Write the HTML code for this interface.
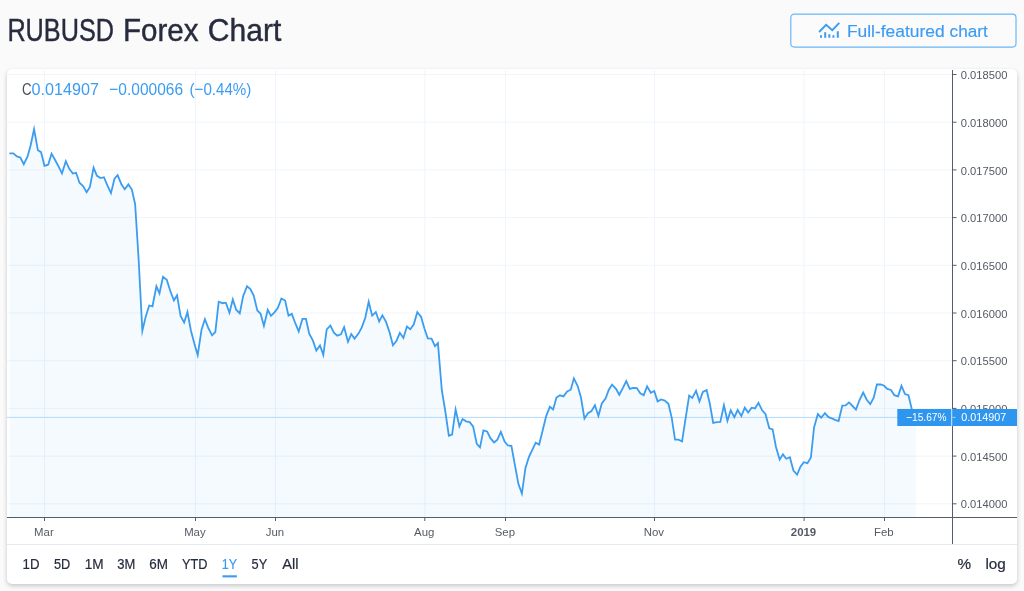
<!DOCTYPE html>
<html lang="en"><head><meta charset="utf-8"><title>RUBUSD Forex Chart</title>
<style>
html,body{margin:0;padding:0}
body{width:1024px;height:591px;background:#fafafa;position:relative;overflow:hidden;font-family:"Liberation Sans",sans-serif;color:#262b3e}
.hdr{position:absolute;left:0;top:0;display:block}
.card{position:absolute;left:7px;top:69px;width:1010px;height:515px;background:#fff;border-radius:5px;box-shadow:0 2px 4px rgba(20,30,45,.23)}
.chart{position:absolute;left:0;top:0;display:block;border-radius:5px;overflow:hidden}
</style></head><body>
<svg class="hdr" width="1024" height="69" viewBox="0 0 1024 69" font-family="Liberation Sans, sans-serif">
<rect x="790.8" y="14.2" width="225.2" height="32.9" rx="3.5" fill="#fbfbfc" stroke="#6bb7f6" stroke-width="1.2"/>
<text><tspan x="7.38" y="40.5" font-size="31.2" fill="#262b3e" stroke="#262b3e" stroke-width="0.4" textLength="106.66" lengthAdjust="spacingAndGlyphs">RUBUSD</tspan> <tspan x="122.9" y="40.5" font-size="31.2" fill="#262b3e" stroke="#262b3e" stroke-width="0.4" textLength="75.6" lengthAdjust="spacingAndGlyphs">Forex</tspan> <tspan x="207.81" y="40.5" font-size="31.2" fill="#262b3e" stroke="#262b3e" stroke-width="0.4" textLength="73.52" lengthAdjust="spacingAndGlyphs">Chart</tspan></text>
<text><tspan x="846.93" y="36.7" font-size="16.6" fill="#3a9cf2" stroke="#3a9cf2" stroke-width="0.15" textLength="97.68" lengthAdjust="spacingAndGlyphs">Full-featured</tspan> <tspan x="949.63" y="36.7" font-size="16.6" fill="#3a9cf2" stroke="#3a9cf2" stroke-width="0.15" textLength="38.18" lengthAdjust="spacingAndGlyphs">chart</tspan></text>
<polyline points="819.1,32 826.1,24.8 832.3,30.1 839.3,22.9" fill="none" stroke="#3a9cf2" stroke-width="1.9"/>
<path d="M820 35.2h2v2.5h-2zM824.2 32.2h2v5.5h-2zM828.3 34.2h2v3.5h-2zM832.4 35.2h2v2.5h-2zM836.8 31.3h2v6.4h-2z" fill="#3a9cf2"/>
</svg>
<div class="card">
<svg class="chart" width="1010" height="515" viewBox="0 0 1010 515" font-family="Liberation Sans, sans-serif">
<line x1="0" x2="945" y1="5.5" y2="5.5" stroke="#f1f5f9"/>
<line x1="0" x2="945" y1="53.2" y2="53.2" stroke="#f1f5f9"/>
<line x1="0" x2="945" y1="100.9" y2="100.9" stroke="#f1f5f9"/>
<line x1="0" x2="945" y1="148.6" y2="148.6" stroke="#f1f5f9"/>
<line x1="0" x2="945" y1="196.3" y2="196.3" stroke="#f1f5f9"/>
<line x1="0" x2="945" y1="244" y2="244" stroke="#f1f5f9"/>
<line x1="0" x2="945" y1="291.7" y2="291.7" stroke="#f1f5f9"/>
<line x1="0" x2="945" y1="339.4" y2="339.4" stroke="#f1f5f9"/>
<line x1="0" x2="945" y1="387.1" y2="387.1" stroke="#f1f5f9"/>
<line x1="0" x2="945" y1="434.8" y2="434.8" stroke="#f1f5f9"/>
<line x1="37.5" x2="37.5" y1="1" y2="448" stroke="#eef5fc"/>
<line x1="188.5" x2="188.5" y1="1" y2="448" stroke="#eef5fc"/>
<line x1="268.5" x2="268.5" y1="1" y2="448" stroke="#eef5fc"/>
<line x1="417.8" x2="417.8" y1="1" y2="448" stroke="#eef5fc"/>
<line x1="498.5" x2="498.5" y1="1" y2="448" stroke="#eef5fc"/>
<line x1="647.5" x2="647.5" y1="1" y2="448" stroke="#eef5fc"/>
<line x1="797.1" x2="797.1" y1="1" y2="448" stroke="#eef5fc"/>
<line x1="877.5" x2="877.5" y1="1" y2="448" stroke="#eef5fc"/>
<polygon points="3.06,84.3 6.35,84.3 9.89,87.4 13.33,88.5 16.79,95.21 20.57,87.4 23.66,76.2 27.07,60.24 30.89,81.3 34.08,83.2 37.47,96.8 41.16,95.7 44.55,84.68 48.1,91 51.64,97.6 54.96,104.29 58.83,92.19 62.31,99.9 65.85,104.6 69.09,103.8 72.48,113.7 76.08,117.1 79.62,123.19 82.91,117.9 86.57,98.57 89.94,106.9 93.63,109 96.92,108.2 100.61,116.8 103.99,124.09 107.45,109.75 110.64,106.08 114.38,115.2 117.77,120.21 121.36,115.39 124.85,120.5 128.14,135.2 131.61,190 135.35,261.91 138.77,247.4 142.21,236.5 145.49,237.29 149.4,217.28 152.48,224.25 156.02,207.86 159.76,210.7 163.21,221.7 166.93,231.48 170.04,226.27 173.58,247 177.14,253.45 180.44,243.04 183.9,261.5 187.39,274.8 190.71,286.01 194.53,260.7 197.89,250.27 201.36,259.2 205.07,266.34 208.34,263 211.69,232.7 215.52,234.2 218.86,233.7 222.43,243.74 225.81,230.46 229.19,240.7 232.76,244.38 236.17,227.1 240.05,217.18 243.35,220.1 246.64,226.3 250.34,241.5 253.63,244.8 256.91,256.96 260.77,240.85 263.98,246.83 267.44,243.4 270.78,239 274.41,229.54 278.11,231.5 281.51,246.58 284.78,244.85 288.29,254.2 291.73,262.52 295.47,249.8 298.91,249.8 302.25,264.6 305.94,271.7 309.3,281.59 313,276.45 316.31,285.81 319.71,260.4 323.42,256.49 326.94,263.8 330.23,266.7 333.92,265.4 337.13,258.16 340.98,272.81 344.27,265.05 347.55,269.63 351.46,264.6 354.77,258.4 358.21,249 361.69,232.69 365.15,246.6 368.84,243.06 372.13,252.45 375.38,246.35 379.06,252.9 382.5,263.1 385.94,276.3 389.53,271.7 392.86,263.84 396.43,269 399.88,257.52 403.3,260.23 406.81,255.25 410.27,243.18 414.05,247.75 417.41,259.5 420.75,269.3 424.5,269.6 428.02,277.15 430.93,274.15 434.82,321.2 438.26,342 441.84,366.73 445.09,365.6 448.61,340.42 452.39,357.28 455.59,349.99 459.11,352.3 462.65,353.1 466.09,357.4 469.78,374.9 473,378.35 476.43,361.33 480.1,362.4 483.4,369.2 487.09,373.4 490.38,370.7 493.85,362.83 497.61,372.6 500.85,376.5 504.39,376.8 507.88,395.8 511.38,414.8 514.9,424.5 518.41,399.2 521.85,388.2 525.29,380.9 528.69,373.72 532.12,375.59 535.71,361.2 539.23,346.8 542.89,337.77 546.16,340.45 549.45,328.5 552.97,326.3 556.51,327.4 560.15,322.4 563.69,320.7 566.91,309.43 570.68,317 573.97,328.5 577.46,349.58 581,344.1 584.44,342.1 587.9,336.18 591.41,346.91 594.81,334.4 598.66,329.3 601.82,320.7 605.05,315.62 608.98,319.9 612.27,325.79 615.81,319.1 619.27,312.16 622.74,319.9 626.28,318.8 629.83,319.1 633.27,324.3 636.71,326.15 640.09,317.36 643.79,323.8 647.25,321.97 650.6,332.33 654.26,330.4 657.71,331.6 661.42,334.75 664.74,348.8 668.03,370.7 671.57,370.7 675.04,372.46 678.55,349.6 682.16,326.51 685.31,328.89 689.03,321.79 692.45,332.39 695.86,323 699.66,321.1 702.84,334.75 706.18,354 709.87,353.2 713.31,353 716.94,336.3 720.41,351.79 723.71,341.36 727.36,348.19 730.65,341.01 734.37,347.04 737.75,338.66 741.15,343.5 744.69,338.7 747.98,339.4 751.45,333.87 755.16,341.3 758.45,344.9 762.29,359.3 765.63,360.4 768.97,378 772.69,390.62 775.92,385.34 779.3,389.75 782.87,388.24 786.43,401.5 790.08,405.55 793.46,397.6 796.75,393.2 800.44,394.1 803.89,388.5 807.05,358.5 810.85,345.12 814.21,348.72 817.9,344.08 821.19,347.9 824.63,349.3 828.07,350.8 831.6,352.07 835.31,336.6 838.6,336.4 842.04,333.4 845.53,337 848.97,340.54 852.51,331 856.2,323.51 859.75,330.7 863.27,335.16 866.73,328.7 869.87,315.5 873.56,315.5 876.85,316.5 880.29,319.9 883.98,321 887.32,326.2 891.02,327.4 894.49,316.87 898,325.1 901.44,326.2 904.98,341 908.9,348.4 908.9,448.2 3.06,448.2" fill="#2196f3" fill-opacity="0.05"/>
<line x1="0" x2="945" y1="348.4" y2="348.4" stroke="#b5dbfb"/>
<polyline points="3.06,84.3 6.35,84.3 9.89,87.4 13.33,88.5 16.79,95.21 20.57,87.4 23.66,76.2 27.07,60.24 30.89,81.3 34.08,83.2 37.47,96.8 41.16,95.7 44.55,84.68 48.1,91 51.64,97.6 54.96,104.29 58.83,92.19 62.31,99.9 65.85,104.6 69.09,103.8 72.48,113.7 76.08,117.1 79.62,123.19 82.91,117.9 86.57,98.57 89.94,106.9 93.63,109 96.92,108.2 100.61,116.8 103.99,124.09 107.45,109.75 110.64,106.08 114.38,115.2 117.77,120.21 121.36,115.39 124.85,120.5 128.14,135.2 131.61,190 135.35,261.91 138.77,247.4 142.21,236.5 145.49,237.29 149.4,217.28 152.48,224.25 156.02,207.86 159.76,210.7 163.21,221.7 166.93,231.48 170.04,226.27 173.58,247 177.14,253.45 180.44,243.04 183.9,261.5 187.39,274.8 190.71,286.01 194.53,260.7 197.89,250.27 201.36,259.2 205.07,266.34 208.34,263 211.69,232.7 215.52,234.2 218.86,233.7 222.43,243.74 225.81,230.46 229.19,240.7 232.76,244.38 236.17,227.1 240.05,217.18 243.35,220.1 246.64,226.3 250.34,241.5 253.63,244.8 256.91,256.96 260.77,240.85 263.98,246.83 267.44,243.4 270.78,239 274.41,229.54 278.11,231.5 281.51,246.58 284.78,244.85 288.29,254.2 291.73,262.52 295.47,249.8 298.91,249.8 302.25,264.6 305.94,271.7 309.3,281.59 313,276.45 316.31,285.81 319.71,260.4 323.42,256.49 326.94,263.8 330.23,266.7 333.92,265.4 337.13,258.16 340.98,272.81 344.27,265.05 347.55,269.63 351.46,264.6 354.77,258.4 358.21,249 361.69,232.69 365.15,246.6 368.84,243.06 372.13,252.45 375.38,246.35 379.06,252.9 382.5,263.1 385.94,276.3 389.53,271.7 392.86,263.84 396.43,269 399.88,257.52 403.3,260.23 406.81,255.25 410.27,243.18 414.05,247.75 417.41,259.5 420.75,269.3 424.5,269.6 428.02,277.15 430.93,274.15 434.82,321.2 438.26,342 441.84,366.73 445.09,365.6 448.61,340.42 452.39,357.28 455.59,349.99 459.11,352.3 462.65,353.1 466.09,357.4 469.78,374.9 473,378.35 476.43,361.33 480.1,362.4 483.4,369.2 487.09,373.4 490.38,370.7 493.85,362.83 497.61,372.6 500.85,376.5 504.39,376.8 507.88,395.8 511.38,414.8 514.9,424.5 518.41,399.2 521.85,388.2 525.29,380.9 528.69,373.72 532.12,375.59 535.71,361.2 539.23,346.8 542.89,337.77 546.16,340.45 549.45,328.5 552.97,326.3 556.51,327.4 560.15,322.4 563.69,320.7 566.91,309.43 570.68,317 573.97,328.5 577.46,349.58 581,344.1 584.44,342.1 587.9,336.18 591.41,346.91 594.81,334.4 598.66,329.3 601.82,320.7 605.05,315.62 608.98,319.9 612.27,325.79 615.81,319.1 619.27,312.16 622.74,319.9 626.28,318.8 629.83,319.1 633.27,324.3 636.71,326.15 640.09,317.36 643.79,323.8 647.25,321.97 650.6,332.33 654.26,330.4 657.71,331.6 661.42,334.75 664.74,348.8 668.03,370.7 671.57,370.7 675.04,372.46 678.55,349.6 682.16,326.51 685.31,328.89 689.03,321.79 692.45,332.39 695.86,323 699.66,321.1 702.84,334.75 706.18,354 709.87,353.2 713.31,353 716.94,336.3 720.41,351.79 723.71,341.36 727.36,348.19 730.65,341.01 734.37,347.04 737.75,338.66 741.15,343.5 744.69,338.7 747.98,339.4 751.45,333.87 755.16,341.3 758.45,344.9 762.29,359.3 765.63,360.4 768.97,378 772.69,390.62 775.92,385.34 779.3,389.75 782.87,388.24 786.43,401.5 790.08,405.55 793.46,397.6 796.75,393.2 800.44,394.1 803.89,388.5 807.05,358.5 810.85,345.12 814.21,348.72 817.9,344.08 821.19,347.9 824.63,349.3 828.07,350.8 831.6,352.07 835.31,336.6 838.6,336.4 842.04,333.4 845.53,337 848.97,340.54 852.51,331 856.2,323.51 859.75,330.7 863.27,335.16 866.73,328.7 869.87,315.5 873.56,315.5 876.85,316.5 880.29,319.9 883.98,321 887.32,326.2 891.02,327.4 894.49,316.87 898,325.1 901.44,326.2 904.98,341 908.9,348.4" fill="none" stroke="#3a9df1" stroke-width="1.8" stroke-linejoin="miter" stroke-miterlimit="10" stroke-linecap="round"/>
<line x1="0" x2="1010" y1="448.5" y2="448.5" stroke="#555d6b"/>
<line x1="945.5" x2="945.5" y1="1" y2="475" stroke="#555d6b"/>
<line x1="37.5" x2="37.5" y1="448.5" y2="452" stroke="#555d6b"/>
<text x="36.9" y="467.3" text-anchor="middle" font-size="11.4" fill="#555a64">Mar</text>
<line x1="188.5" x2="188.5" y1="448.5" y2="452" stroke="#555d6b"/>
<text x="187.9" y="467.3" text-anchor="middle" font-size="11.4" fill="#555a64">May</text>
<line x1="268.5" x2="268.5" y1="448.5" y2="452" stroke="#555d6b"/>
<text x="267.9" y="467.3" text-anchor="middle" font-size="11.4" fill="#555a64">Jun</text>
<line x1="417.8" x2="417.8" y1="448.5" y2="452" stroke="#555d6b"/>
<text x="417.2" y="467.3" text-anchor="middle" font-size="11.4" fill="#555a64">Aug</text>
<line x1="498.5" x2="498.5" y1="448.5" y2="452" stroke="#555d6b"/>
<text x="497.9" y="467.3" text-anchor="middle" font-size="11.4" fill="#555a64">Sep</text>
<line x1="647.5" x2="647.5" y1="448.5" y2="452" stroke="#555d6b"/>
<text x="646.9" y="467.3" text-anchor="middle" font-size="11.4" fill="#555a64">Nov</text>
<line x1="797.1" x2="797.1" y1="448.5" y2="452" stroke="#555d6b"/>
<text x="796.5" y="467.3" text-anchor="middle" font-size="11.4" fill="#555a64" font-weight="bold">2019</text>
<line x1="877.5" x2="877.5" y1="448.5" y2="452" stroke="#555d6b"/>
<text x="876.9" y="467.3" text-anchor="middle" font-size="11.4" fill="#555a64">Feb</text>
<line x1="945.5" x2="949.5" y1="5.5" y2="5.5" stroke="#555d6b"/>
<text x="953.8" y="10.1" font-size="11.4" fill="#555a64" textLength="46.6" lengthAdjust="spacingAndGlyphs">0.018500</text>
<line x1="945.5" x2="949.5" y1="53.2" y2="53.2" stroke="#555d6b"/>
<text x="953.8" y="57.8" font-size="11.4" fill="#555a64" textLength="46.6" lengthAdjust="spacingAndGlyphs">0.018000</text>
<line x1="945.5" x2="949.5" y1="100.9" y2="100.9" stroke="#555d6b"/>
<text x="953.8" y="105.5" font-size="11.4" fill="#555a64" textLength="46.6" lengthAdjust="spacingAndGlyphs">0.017500</text>
<line x1="945.5" x2="949.5" y1="148.6" y2="148.6" stroke="#555d6b"/>
<text x="953.8" y="153.2" font-size="11.4" fill="#555a64" textLength="46.6" lengthAdjust="spacingAndGlyphs">0.017000</text>
<line x1="945.5" x2="949.5" y1="196.3" y2="196.3" stroke="#555d6b"/>
<text x="953.8" y="200.9" font-size="11.4" fill="#555a64" textLength="46.6" lengthAdjust="spacingAndGlyphs">0.016500</text>
<line x1="945.5" x2="949.5" y1="244" y2="244" stroke="#555d6b"/>
<text x="953.8" y="248.6" font-size="11.4" fill="#555a64" textLength="46.6" lengthAdjust="spacingAndGlyphs">0.016000</text>
<line x1="945.5" x2="949.5" y1="291.7" y2="291.7" stroke="#555d6b"/>
<text x="953.8" y="296.3" font-size="11.4" fill="#555a64" textLength="46.6" lengthAdjust="spacingAndGlyphs">0.015500</text>
<line x1="945.5" x2="949.5" y1="339.4" y2="339.4" stroke="#555d6b"/>
<text x="953.8" y="344" font-size="11.4" fill="#555a64" textLength="46.6" lengthAdjust="spacingAndGlyphs">0.015000</text>
<line x1="945.5" x2="949.5" y1="387.1" y2="387.1" stroke="#555d6b"/>
<text x="953.8" y="391.7" font-size="11.4" fill="#555a64" textLength="46.6" lengthAdjust="spacingAndGlyphs">0.014500</text>
<line x1="945.5" x2="949.5" y1="434.8" y2="434.8" stroke="#555d6b"/>
<text x="953.8" y="439.4" font-size="11.4" fill="#555a64" textLength="46.6" lengthAdjust="spacingAndGlyphs">0.014000</text>
<rect x="890.3" y="340" width="119.7" height="17" fill="#2f96f0"/>
<line x1="944.7" x2="944.7" y1="340" y2="357" stroke="#d4e9fc"/>
<line x1="945.5" x2="948.5" y1="348.4" y2="348.4" stroke="#a8d2f8"/>
<text x="899.16" y="351.9" font-size="11.4" fill="#fff" textLength="40.34" lengthAdjust="spacingAndGlyphs">−15.67%</text>
<text x="954.25" y="351.9" font-size="11.4" fill="#fff" textLength="44.91" lengthAdjust="spacingAndGlyphs">0.014907</text>
<text><tspan x="14.9" y="25.8" font-size="17.2" fill="#4a4f5c" textLength="9.6" lengthAdjust="spacingAndGlyphs">C</tspan> <tspan x="24.4" y="25.8" font-size="17.2" fill="#3a9cf2" textLength="67.5" lengthAdjust="spacingAndGlyphs">0.014907</tspan> <tspan x="102.32" y="25.8" font-size="17.2" fill="#3a9cf2" textLength="73.69" lengthAdjust="spacingAndGlyphs">−0.000066</tspan> <tspan x="182.5" y="25.8" font-size="17.2" fill="#3a9cf2" textLength="61.83" lengthAdjust="spacingAndGlyphs">(−0.44%)</tspan></text>
<line x1="0" x2="1010" y1="475.5" y2="475.5" stroke="#e2e9ef"/>
<text x="15.62" y="500.3" font-size="14.6" fill="#262b3e" stroke="#262b3e" stroke-width="0.2" textLength="16.9" lengthAdjust="spacingAndGlyphs">1D</text>
<text x="46.94" y="500.3" font-size="14.6" fill="#262b3e" stroke="#262b3e" stroke-width="0.2" textLength="16.3" lengthAdjust="spacingAndGlyphs">5D</text>
<text x="77.78" y="500.3" font-size="14.6" fill="#262b3e" stroke="#262b3e" stroke-width="0.2" textLength="18.92" lengthAdjust="spacingAndGlyphs">1M</text>
<text x="110.16" y="500.3" font-size="14.6" fill="#262b3e" stroke="#262b3e" stroke-width="0.2" textLength="18.05" lengthAdjust="spacingAndGlyphs">3M</text>
<text x="142.19" y="500.3" font-size="14.6" fill="#262b3e" stroke="#262b3e" stroke-width="0.2" textLength="18.7" lengthAdjust="spacingAndGlyphs">6M</text>
<text x="174.9" y="500.3" font-size="14.6" fill="#262b3e" stroke="#262b3e" stroke-width="0.2" textLength="25.48" lengthAdjust="spacingAndGlyphs">YTD</text>
<text x="214.78" y="500.3" font-size="14.6" fill="#3a9cf2" stroke="#3a9cf2" stroke-width="0.2" textLength="15.34" lengthAdjust="spacingAndGlyphs">1Y</text>
<text x="244.53" y="500.3" font-size="14.6" fill="#262b3e" stroke="#262b3e" stroke-width="0.2" textLength="15.72" lengthAdjust="spacingAndGlyphs">5Y</text>
<text x="275.23" y="500.3" font-size="14.6" fill="#262b3e" stroke="#262b3e" stroke-width="0.2" textLength="16.33" lengthAdjust="spacingAndGlyphs">All</text>
<text x="950.43" y="500.3" font-size="14.6" fill="#262b3e" stroke="#262b3e" stroke-width="0.2" textLength="13.61" lengthAdjust="spacingAndGlyphs">%</text>
<text x="978.46" y="500.3" font-size="14.6" fill="#262b3e" stroke="#262b3e" stroke-width="0.2" textLength="20.36" lengthAdjust="spacingAndGlyphs">log</text>
<rect x="215.5" y="506.3" width="14.4" height="2.1" fill="#3a9cf2"/>
</svg>
</div>
</body></html>
